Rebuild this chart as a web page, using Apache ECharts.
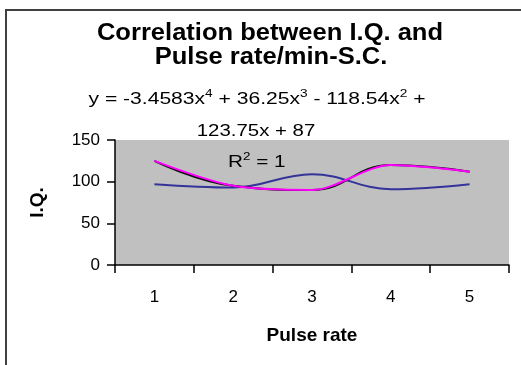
<!DOCTYPE html>
<html>
<head>
<meta charset="utf-8">
<script src="https://cdn.jsdelivr.net/npm/echarts@6/dist/echarts.min.js"></script>
<style>
  html, body { margin: 0; padding: 0; background: #ffffff; }
  #chart { width: 521px; height: 365px; }
</style>
</head>
<body>
<div id="chart"></div>
<script>
// Pulse rate categories and measured values
const categories = ['1', '2', '3', '4', '5'];
const yTicks = [0, 50, 100, 150];
const iqValues = [125, 95, 90, 120, 112];
// 4th-order polynomial trendline (R² = 1, passes through every observation)
const trendValues = [125, 95, 90, 120, 112];
const pulseValues = [97, 93, 109, 91, 97];

const FONT = '"Liberation Sans", Arial, sans-serif';

const chart = echarts.init(document.getElementById('chart'), null, { renderer: 'canvas' });

chart.setOption({
  animation: false,
  backgroundColor: '#ffffff',
  grid: {
    left: 115, right: 12, top: 140, bottom: 100,
    show: true, backgroundColor: '#C0C0C0', borderWidth: 0
  },
  xAxis: {
    type: 'category',
    data: categories,
    boundaryGap: true,
    name: 'Pulse rate',
    nameLocation: 'middle',
    nameGap: 61,
    nameTextStyle: { fontFamily: FONT, fontWeight: 'bold', fontSize: 19, color: '#000' },
    axisLine: { lineStyle: { color: '#000', width: 1.5 } },
    axisTick: { show: true, length: 8, inside: false, interval: 0, lineStyle: { color: '#000', width: 1.5 } },
    axisLabel: { fontFamily: FONT, fontSize: 17, color: '#000', margin: 24 },
    splitLine: { show: false }
  },
  yAxis: {
    type: 'value',
    min: yTicks[0],
    max: yTicks[yTicks.length - 1],
    interval: yTicks[1] - yTicks[0],
    name: 'I.Q.',
    nameLocation: 'middle',
    nameRotate: 90,
    nameGap: 68,
    nameTextStyle: { fontFamily: FONT, fontWeight: 'bold', fontSize: 19, color: '#000' },
    axisLine: { show: true, lineStyle: { color: '#000', width: 1.5 } },
    axisTick: { show: true, length: 8, inside: false, lineStyle: { color: '#000', width: 1.5 } },
    axisLabel: { fontFamily: FONT, fontSize: 17, color: '#000', margin: 15 },
    splitLine: { show: false }
  },
  series: [
    {
      name: 'Pulse rate/min',
      type: 'line',
      data: pulseValues,
      smooth: 0.4,
      symbol: 'none',
      lineStyle: { color: '#333399', width: 2 },
      z: 2
    },
    {
      name: 'I.Q.',
      type: 'line',
      data: iqValues,
      smooth: 0.45,
      symbol: 'none',
      lineStyle: { color: '#111111', width: 2 },
      z: 3
    },
    {
      name: 'Poly. (I.Q.)',
      type: 'line',
      data: trendValues,
      smooth: 0.3,
      symbol: 'none',
      lineStyle: { color: '#FF00FF', width: 2 },
      z: 4
    }
  ],
  graphic: [
    {
      type: 'rect',
      shape: { x: 6, y: 10, width: 600, height: 500 },
      style: { fill: 'none', stroke: '#404040', lineWidth: 2 },
      silent: true
    },
    {
      type: 'text', x: 270, y: 34, scaleX: 1.11,
      style: {
        text: 'Correlation between I.Q. and',
        fontFamily: FONT, fontWeight: 'bold', fontSize: 23, fill: '#000',
        textAlign: 'center', textVerticalAlign: 'middle'
      }
    },
    {
      type: 'text', x: 271, y: 58, scaleX: 1.11,
      style: {
        text: 'Pulse rate/min-S.C.',
        fontFamily: FONT, fontWeight: 'bold', fontSize: 23, fill: '#000',
        textAlign: 'center', textVerticalAlign: 'middle'
      }
    },
    {
      type: 'text', x: 257, y: 99, scaleX: 1.24,
      style: {
        text: 'y = -3.4583x{s|4} + 36.25x{s|3} - 118.54x{s|2} +',
        fontFamily: FONT, fontSize: 17, fill: '#000',
        textAlign: 'center', textVerticalAlign: 'middle',
        rich: { s: { fontFamily: FONT, fontSize: 11, fill: '#000', padding: [0, 0, 10, 0] } }
      }
    },
    {
      type: 'text', x: 256, y: 131, scaleX: 1.2,
      style: {
        text: '123.75x + 87',
        fontFamily: FONT, fontSize: 17, fill: '#000',
        textAlign: 'center', textVerticalAlign: 'middle'
      }
    },
    {
      type: 'text', x: 228, y: 162, scaleX: 1.22,
      style: {
        text: 'R{s|2} = 1',
        fontFamily: FONT, fontSize: 17, fill: '#000',
        textAlign: 'left', textVerticalAlign: 'middle',
        rich: { s: { fontFamily: FONT, fontSize: 11, fill: '#000', padding: [0, 0, 10, 0] } }
      }
    }
  ]
});
</script>
</body>
</html>
